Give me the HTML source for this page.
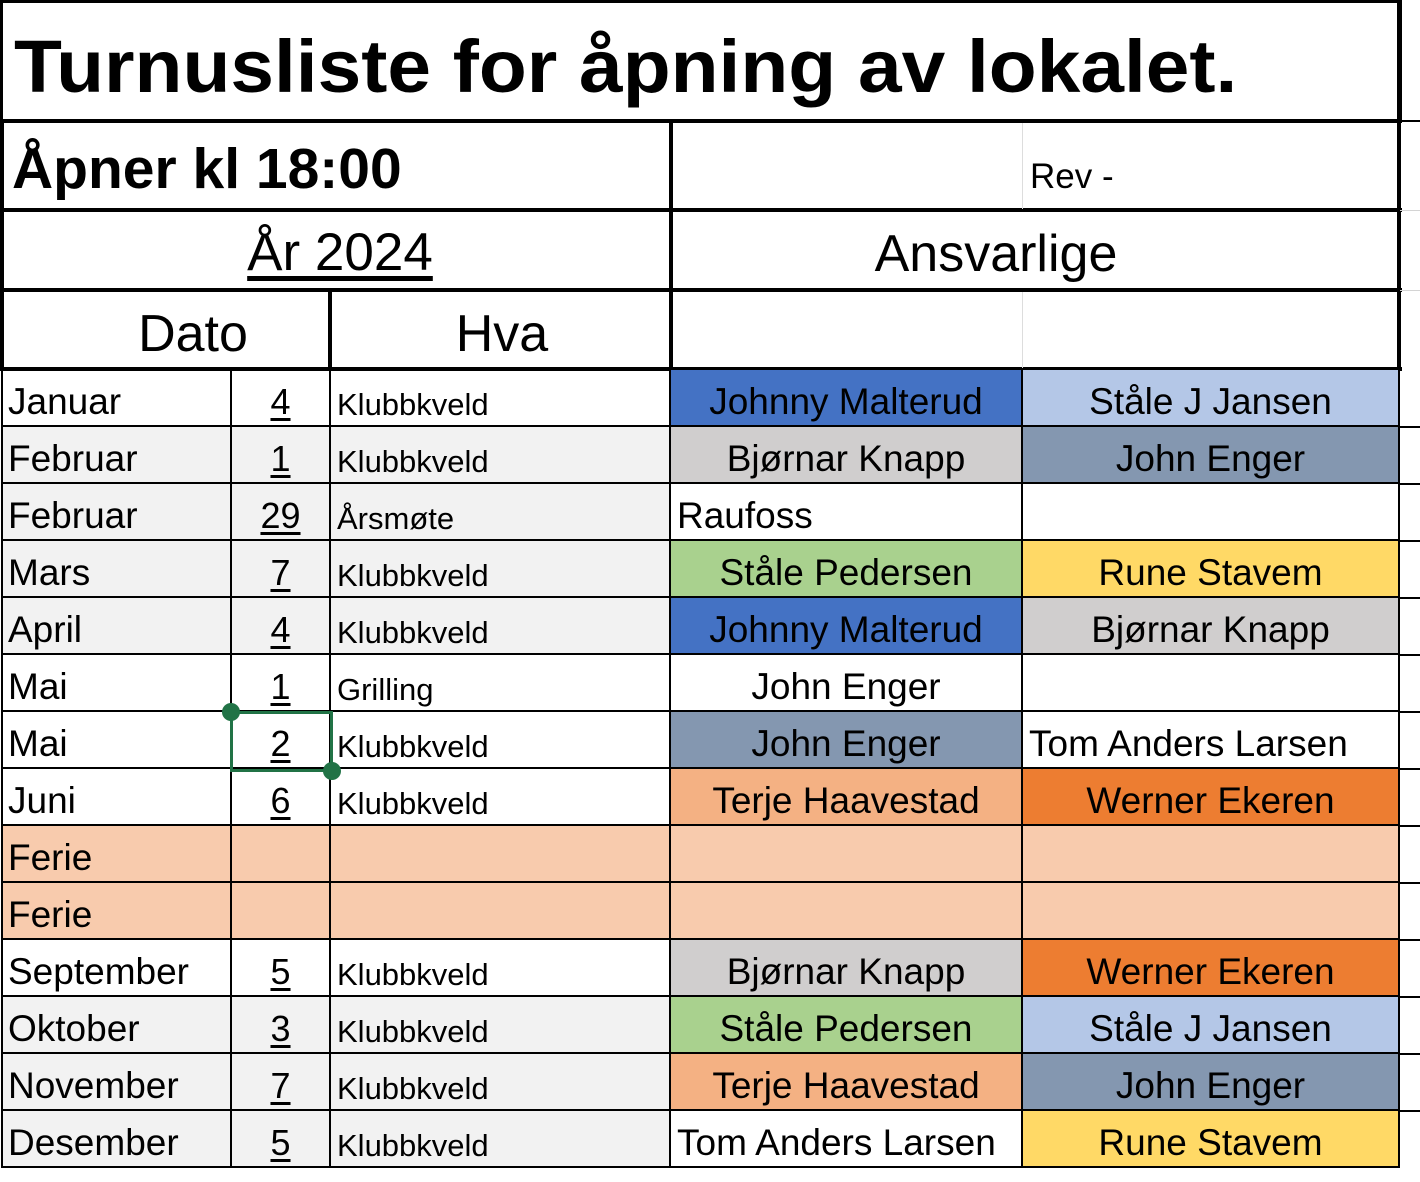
<!DOCTYPE html>
<html><head><meta charset="utf-8"><style>
body{margin:0;width:1420px;height:1182px;background:#fff;position:relative;overflow:hidden;font-family:"Liberation Sans",sans-serif;color:#000}
.a{position:absolute;box-sizing:border-box}
.row{position:absolute;left:2px;height:57px;display:flex;border-bottom:2px solid #000;box-sizing:border-box}
.row div{box-sizing:border-box;border-right:2px solid #000;height:100%;display:flex;align-items:flex-end;padding-bottom:2px;white-space:nowrap;overflow:hidden}
.c1{width:230px;font-size:37px;padding-left:6px}
.c2{width:99px;font-size:36px;justify-content:center}
.c2 span{text-decoration:underline;text-underline-offset:4px}
.c3{width:340px;font-size:31px;padding-left:6px}
.c4{width:352px;font-size:37px;justify-content:center}
.c5{width:377px;font-size:37px;justify-content:center}
.g .c1,.g .c2,.g .c3{background:#f2f2f2}
.L{justify-content:flex-start!important;padding-left:6px}
.ext{position:absolute;left:1400px;width:20px;height:1px;background:#d4d4d4}
</style></head><body>
<div class="a" style="left:0;top:0;width:1402px;height:122px;border:3px solid #000;border-bottom:none"></div>
<div class="a" style="left:14px;top:24px;font-size:74px;font-weight:bold;white-space:nowrap;transform:scaleX(1.06);transform-origin:left">Turnusliste for åpning av lokalet.</div>
<div class="a" style="left:0;top:119px;width:1402px;height:4px;background:#000"></div>
<div class="a" style="left:0;top:208px;width:1402px;height:4px;background:#000"></div>
<div class="a" style="left:0;top:288px;width:1402px;height:4px;background:#000"></div>
<div class="a" style="left:0;top:367px;width:1402px;height:4px;background:#000"></div>
<div class="a" style="left:0;top:119px;width:4px;height:252px;background:#000"></div>
<div class="a" style="left:669px;top:119px;width:4px;height:252px;background:#000"></div>
<div class="a" style="left:1397px;top:0;width:4px;height:371px;background:#000"></div>
<div class="a" style="left:328px;top:288px;width:4px;height:83px;background:#000"></div>
<div class="a" style="left:1022px;top:123px;width:1px;height:86px;background:#ddd"></div>
<div class="a" style="left:1022px;top:292px;width:1px;height:76px;background:#ddd"></div>
<div class="a" style="left:12px;top:136px;font-size:57px;font-weight:bold;white-space:nowrap">Åpner kl 18:00</div>
<div class="a" style="left:1030px;top:157px;font-size:35px">Rev -</div>
<div class="a" style="left:2px;top:222px;width:676px;text-align:center;font-size:53px"><span style="text-decoration:underline;text-underline-offset:6px">År 2024</span></div>
<div class="a" style="left:672px;top:224px;width:648px;text-align:center;font-size:52px">Ansvarlige</div>
<div class="a" style="left:2px;top:304px;width:382px;text-align:center;font-size:52px">Dato</div>
<div class="a" style="left:332px;top:304px;width:340px;text-align:center;font-size:52px">Hva</div>
<div class="ext" style="top:120px;background:#000;height:2px"></div>
<div class="ext" style="top:210px"></div><div class="ext" style="top:290px"></div>

<div class="row" style="top:370px"><div class="c1">Januar</div><div class="c2"><span>4</span></div><div class="c3">Klubbkveld</div><div class="c4" style="background:#4472c4">Johnny Malterud</div><div class="c5" style="background:#b4c7e7">Ståle J Jansen</div></div>
<div class="row g" style="top:427px"><div class="c1">Februar</div><div class="c2"><span>1</span></div><div class="c3">Klubbkveld</div><div class="c4" style="background:#d0cece">Bjørnar Knapp</div><div class="c5" style="background:#8497b0">John Enger</div></div>
<div class="row g" style="top:484px"><div class="c1">Februar</div><div class="c2"><span>29</span></div><div class="c3">Årsmøte</div><div class="c4 L">Raufoss</div><div class="c5"></div></div>
<div class="row g" style="top:541px"><div class="c1">Mars</div><div class="c2"><span>7</span></div><div class="c3">Klubbkveld</div><div class="c4" style="background:#a9d18e">Ståle Pedersen</div><div class="c5" style="background:#ffd966">Rune Stavem</div></div>
<div class="row g" style="top:598px"><div class="c1">April</div><div class="c2"><span>4</span></div><div class="c3">Klubbkveld</div><div class="c4" style="background:#4472c4">Johnny Malterud</div><div class="c5" style="background:#d0cece">Bjørnar Knapp</div></div>
<div class="row" style="top:655px"><div class="c1">Mai</div><div class="c2"><span>1</span></div><div class="c3">Grilling</div><div class="c4">John Enger</div><div class="c5"></div></div>
<div class="row" style="top:712px"><div class="c1">Mai</div><div class="c2"><span>2</span></div><div class="c3">Klubbkveld</div><div class="c4" style="background:#8497b0">John Enger</div><div class="c5 L">Tom Anders Larsen</div></div>
<div class="row" style="top:769px"><div class="c1">Juni</div><div class="c2"><span>6</span></div><div class="c3">Klubbkveld</div><div class="c4" style="background:#f4b183">Terje Haavestad</div><div class="c5" style="background:#ed7d31">Werner Ekeren</div></div>
<div class="row" style="top:826px;background:#f8cbad"><div class="c1">Ferie</div><div class="c2"></div><div class="c3"></div><div class="c4"></div><div class="c5"></div></div>
<div class="row" style="top:883px;background:#f8cbad"><div class="c1">Ferie</div><div class="c2"></div><div class="c3"></div><div class="c4"></div><div class="c5"></div></div>
<div class="row" style="top:940px"><div class="c1">September</div><div class="c2"><span>5</span></div><div class="c3">Klubbkveld</div><div class="c4" style="background:#d0cece">Bjørnar Knapp</div><div class="c5" style="background:#ed7d31">Werner Ekeren</div></div>
<div class="row g" style="top:997px"><div class="c1">Oktober</div><div class="c2"><span>3</span></div><div class="c3">Klubbkveld</div><div class="c4" style="background:#a9d18e">Ståle Pedersen</div><div class="c5" style="background:#b4c7e7">Ståle J Jansen</div></div>
<div class="row g" style="top:1054px"><div class="c1">November</div><div class="c2"><span>7</span></div><div class="c3">Klubbkveld</div><div class="c4" style="background:#f4b183">Terje Haavestad</div><div class="c5" style="background:#8497b0">John Enger</div></div>
<div class="row g" style="top:1111px"><div class="c1">Desember</div><div class="c2"><span>5</span></div><div class="c3">Klubbkveld</div><div class="c4 L">Tom Anders Larsen</div><div class="c5" style="background:#ffd966">Rune Stavem</div></div>
<div class="a" style="left:1px;top:370px;width:2px;height:798px;background:#000"></div>
<div class="ext" style="top:426px;background:#000;height:2px"></div><div class="ext" style="top:483px;background:#000;height:2px"></div><div class="ext" style="top:540px;background:#000;height:2px"></div><div class="ext" style="top:597px;background:#000;height:2px"></div><div class="ext" style="top:654px;background:#000;height:2px"></div><div class="ext" style="top:711px;background:#000;height:2px"></div><div class="ext" style="top:768px;background:#000;height:2px"></div><div class="ext" style="top:825px;background:#000;height:2px"></div><div class="ext" style="top:882px;background:#000;height:2px"></div><div class="ext" style="top:939px;background:#000;height:2px"></div><div class="ext" style="top:996px;background:#000;height:2px"></div><div class="ext" style="top:1053px;background:#000;height:2px"></div><div class="ext" style="top:1110px;background:#000;height:2px"></div>
<div class="a" style="left:230px;top:711px;width:103px;height:61px;border:3px solid #217346"></div>
<div class="a" style="left:222px;top:703px;width:18px;height:18px;border-radius:50%;background:#217346"></div>
<div class="a" style="left:323px;top:762px;width:18px;height:18px;border-radius:50%;background:#217346"></div>
</body></html>
